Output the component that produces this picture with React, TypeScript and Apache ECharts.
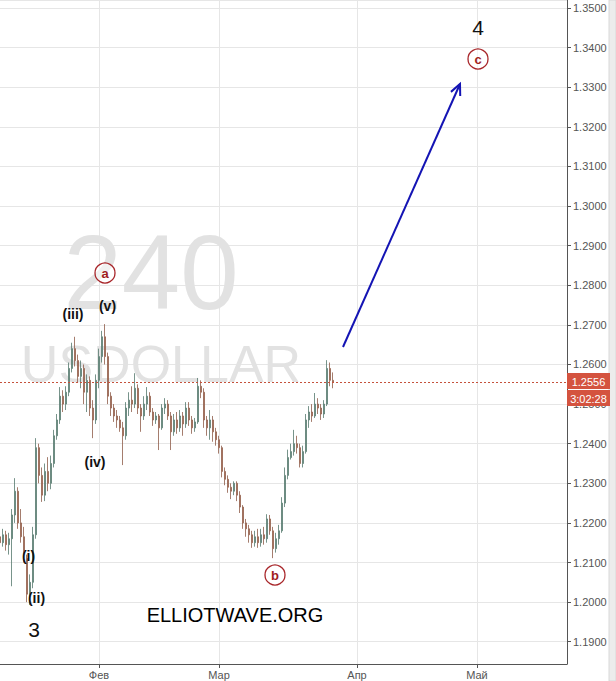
import React, { useEffect, useRef } from 'react';
import * as echarts from 'echarts';

// [open, close, low, high] per slot (about half a trading day each)
const candles: number[][] = [
  [1.2165, 1.2150, 1.2135, 1.2180],
  [1.2150, 1.2170, 1.2140, 1.2185],
  [1.2170, 1.2145, 1.2130, 1.2180],
  [1.2145, 1.2160, 1.2120, 1.2175],
  [1.2160, 1.2220, 1.2040, 1.2235],
  [1.2220, 1.2280, 1.2200, 1.2313],
  [1.2280, 1.2200, 1.2185, 1.2290],
  [1.2200, 1.2165, 1.2150, 1.2235],
  [1.2165, 1.2130, 1.2100, 1.2190],
  [1.2110, 1.2020, 1.2000, 1.2120],
  [1.2020, 1.2050, 1.1993, 1.2070],
  [1.2050, 1.2170, 1.2035, 1.2190],
  [1.2170, 1.2390, 1.2160, 1.2414],
  [1.2390, 1.2320, 1.2300, 1.2400],
  [1.2320, 1.2270, 1.2253, 1.2340],
  [1.2270, 1.2330, 1.2255, 1.2350],
  [1.2330, 1.2300, 1.2280, 1.2366],
  [1.2300, 1.2350, 1.2285, 1.2370],
  [1.2350, 1.2420, 1.2340, 1.2435],
  [1.2420, 1.2460, 1.2410, 1.2475],
  [1.2460, 1.2520, 1.2450, 1.2543],
  [1.2520, 1.2500, 1.2480, 1.2535],
  [1.2500, 1.2530, 1.2485, 1.2545],
  [1.2530, 1.2590, 1.2520, 1.2605],
  [1.2590, 1.2640, 1.2580, 1.2655],
  [1.2640, 1.2610, 1.2595, 1.2670],
  [1.2610, 1.2570, 1.2555, 1.2625],
  [1.2570, 1.2590, 1.2540, 1.2610],
  [1.2590, 1.2530, 1.2500, 1.2600],
  [1.2530, 1.2560, 1.2480, 1.2575],
  [1.2560, 1.2490, 1.2470, 1.2570],
  [1.2490, 1.2460, 1.2414, 1.2510],
  [1.2460, 1.2560, 1.2450, 1.2575],
  [1.2560, 1.2620, 1.2540, 1.2640],
  [1.2620, 1.2670, 1.2605, 1.2685],
  [1.2670, 1.2620, 1.2600, 1.2702],
  [1.2620, 1.2520, 1.2500, 1.2630],
  [1.2520, 1.2490, 1.2470, 1.2530],
  [1.2490, 1.2470, 1.2455, 1.2500],
  [1.2470, 1.2460, 1.2440, 1.2485],
  [1.2460, 1.2440, 1.2430, 1.2470],
  [1.2440, 1.2420, 1.2346, 1.2455],
  [1.2420, 1.2490, 1.2410, 1.2505],
  [1.2490, 1.2510, 1.2470, 1.2530],
  [1.2510, 1.2500, 1.2480, 1.2545],
  [1.2500, 1.2540, 1.2490, 1.2578],
  [1.2540, 1.2490, 1.2475, 1.2550],
  [1.2490, 1.2470, 1.2430, 1.2500],
  [1.2470, 1.2500, 1.2460, 1.2520],
  [1.2500, 1.2520, 1.2485, 1.2543],
  [1.2520, 1.2480, 1.2470, 1.2530],
  [1.2480, 1.2460, 1.2445, 1.2490],
  [1.2460, 1.2470, 1.2450, 1.2480],
  [1.2470, 1.2440, 1.2384, 1.2475],
  [1.2440, 1.2490, 1.2435, 1.2500],
  [1.2490, 1.2500, 1.2475, 1.2515],
  [1.2500, 1.2470, 1.2460, 1.2510],
  [1.2470, 1.2430, 1.2384, 1.2480],
  [1.2430, 1.2460, 1.2420, 1.2475],
  [1.2460, 1.2440, 1.2425, 1.2480],
  [1.2440, 1.2470, 1.2430, 1.2485],
  [1.2470, 1.2450, 1.2420, 1.2480],
  [1.2450, 1.2490, 1.2440, 1.2505],
  [1.2490, 1.2460, 1.2445, 1.2505],
  [1.2460, 1.2440, 1.2425, 1.2470],
  [1.2440, 1.2455, 1.2430, 1.2465],
  [1.2455, 1.2545, 1.2450, 1.2566],
  [1.2545, 1.2530, 1.2515, 1.2560],
  [1.2530, 1.2460, 1.2440, 1.2540],
  [1.2460, 1.2440, 1.2420, 1.2470],
  [1.2440, 1.2460, 1.2410, 1.2485],
  [1.2460, 1.2430, 1.2405, 1.2470],
  [1.2430, 1.2410, 1.2395, 1.2440],
  [1.2410, 1.2390, 1.2375, 1.2420],
  [1.2390, 1.2330, 1.2315, 1.2395],
  [1.2330, 1.2310, 1.2295, 1.2340],
  [1.2310, 1.2290, 1.2276, 1.2320],
  [1.2290, 1.2280, 1.2260, 1.2300],
  [1.2280, 1.2300, 1.2270, 1.2305],
  [1.2300, 1.2270, 1.2255, 1.2305],
  [1.2270, 1.2240, 1.2225, 1.2280],
  [1.2240, 1.2200, 1.2185, 1.2245],
  [1.2200, 1.2185, 1.2165, 1.2210],
  [1.2185, 1.2170, 1.2150, 1.2195],
  [1.2170, 1.2150, 1.2137, 1.2180],
  [1.2150, 1.2165, 1.2140, 1.2180],
  [1.2165, 1.2150, 1.2137, 1.2185],
  [1.2150, 1.2170, 1.2140, 1.2185],
  [1.2170, 1.2160, 1.2145, 1.2190],
  [1.2160, 1.2210, 1.2150, 1.2222],
  [1.2210, 1.2180, 1.2170, 1.2220],
  [1.2180, 1.2135, 1.2111, 1.2190],
  [1.2135, 1.2160, 1.2125, 1.2175],
  [1.2160, 1.2180, 1.2145, 1.2195],
  [1.2180, 1.2250, 1.2175, 1.2265],
  [1.2250, 1.2320, 1.2240, 1.2340],
  [1.2320, 1.2365, 1.2310, 1.2385],
  [1.2365, 1.2380, 1.2360, 1.2400],
  [1.2380, 1.2400, 1.2370, 1.2435],
  [1.2400, 1.2390, 1.2375, 1.2420],
  [1.2390, 1.2350, 1.2340, 1.2400],
  [1.2350, 1.2380, 1.2340, 1.2395],
  [1.2380, 1.2460, 1.2375, 1.2475],
  [1.2460, 1.2480, 1.2440, 1.2495],
  [1.2480, 1.2470, 1.2455, 1.2500],
  [1.2470, 1.2500, 1.2465, 1.2528],
  [1.2500, 1.2490, 1.2475, 1.2515],
  [1.2490, 1.2475, 1.2460, 1.2500],
  [1.2475, 1.2500, 1.2465, 1.2510],
  [1.2500, 1.2590, 1.2495, 1.2611],
  [1.2590, 1.2560, 1.2545, 1.2605],
  [1.2560, 1.2556, 1.2540, 1.2580],
];

const monthLabels = ['Фев', 'Мар', 'Апр', 'Май'];
const monthSlots = [33, 73, 119, 159];
const slotCount = 190;
const yMin = 1.184369;
const yMax = 1.352045;
const lastPrice = 1.2556;
const timerText = '3:02:28';

const FONT = '"Liberation Sans", Arial, sans-serif';

const waveLabels = [
  { text: '(i)', x: 28.5, y: 556, size: 14, bold: true },
  { text: '(ii)', x: 36.5, y: 598, size: 14, bold: true },
  { text: '3', x: 34, y: 629, size: 21, bold: false },
  { text: '(iii)', x: 73, y: 314, size: 14, bold: true },
  { text: '(v)', x: 107.5, y: 306, size: 14, bold: true },
  { text: '(iv)', x: 95, y: 462, size: 14, bold: true },
  { text: '4', x: 478, y: 27, size: 21, bold: false },
];
const circleLabels = [
  { text: 'a', x: 105, y: 273 },
  { text: 'b', x: 275, y: 575 },
  { text: 'c', x: 478, y: 59 },
];

export default function App() {
  const ref = useRef<HTMLDivElement>(null);
  useEffect(() => {
    if (!ref.current) return;
    const chart = echarts.init(ref.current, undefined, { renderer: 'svg' });
    const categories = Array.from({ length: slotCount }, (_, i) => {
      const k = monthSlots.indexOf(i);
      return k >= 0 ? monthLabels[k] : 's' + i;
    });
    const isMonth = (idx: number) => monthSlots.indexOf(idx) >= 0;

    const tail = [343, 347];
    const tip = [460, 84];
    const dx = tip[0] - tail[0], dy = tip[1] - tail[1];
    const len = Math.sqrt(dx * dx + dy * dy);
    const ux = dx / len, uy = dy / len;
    const ang = (25 * Math.PI) / 180;
    const headLen = 12;
    const rot = (a: number) => [ux * Math.cos(a) - uy * Math.sin(a), ux * Math.sin(a) + uy * Math.cos(a)];
    const r1 = rot(ang), r2 = rot(-ang);
    const head = [
      [tip[0] - headLen * r1[0], tip[1] - headLen * r1[1]],
      [tip[0], tip[1]],
      [tip[0] - headLen * r2[0], tip[1] - headLen * r2[1]],
    ];

    const graphics: any[] = [
      { type: 'rect', z: 0, silent: true, shape: { x: 609, y: 0, width: 7, height: 681 }, style: { fill: '#ececec', stroke: '#d8d8d8', lineWidth: 1 } },
      { type: 'text', z: 1, silent: true, style: { x: 151, y: 272.5, text: '240', font: `normal 105px ${FONT}`, fill: '#e2e2e2', align: 'center', verticalAlign: 'middle', textAlign: 'center', textVerticalAlign: 'middle' } },
      { type: 'text', z: 1, silent: true, style: { x: 161, y: 364, text: 'USDOLLAR', font: `normal 52px ${FONT}`, fill: '#e2e2e2', align: 'center', verticalAlign: 'middle', textAlign: 'center', textVerticalAlign: 'middle' } },
      { type: 'text', z: 100, silent: true, style: { x: 235, y: 615, text: 'ELLIOTWAVE.ORG', font: `normal 20px ${FONT}`, fill: '#000', align: 'center', verticalAlign: 'middle', textAlign: 'center', textVerticalAlign: 'middle' } },
      { type: 'line', z: 100, silent: true, shape: { x1: tail[0], y1: tail[1], x2: tip[0], y2: tip[1] }, style: { stroke: '#1414b4', lineWidth: 2 } },
      { type: 'polyline', z: 100, silent: true, shape: { points: head }, style: { stroke: '#1414b4', lineWidth: 2, fill: null } },
      { type: 'rect', z: 100, silent: true, shape: { x: 567, y: 373, width: 43, height: 16 }, style: { fill: '#d4533f' } },
      { type: 'text', z: 101, silent: true, style: { x: 588.5, y: 381.5, text: lastPrice.toFixed(4), font: `normal 11px ${FONT}`, fill: '#fff', align: 'center', verticalAlign: 'middle', textAlign: 'center', textVerticalAlign: 'middle' } },
      { type: 'rect', z: 100, silent: true, shape: { x: 567, y: 390, width: 43, height: 16 }, style: { fill: '#d4533f' } },
      { type: 'text', z: 101, silent: true, style: { x: 588.5, y: 398.5, text: timerText, font: `normal 11px ${FONT}`, fill: '#fff', align: 'center', verticalAlign: 'middle', textAlign: 'center', textVerticalAlign: 'middle' } },
    ];
    waveLabels.forEach((w) => {
      graphics.push({ type: 'text', z: 100, silent: true, style: { x: w.x, y: w.y, text: w.text, font: `${w.bold ? 'bold' : 'normal'} ${w.size}px ${FONT}`, fill: '#111', align: 'center', verticalAlign: 'middle', textAlign: 'center', textVerticalAlign: 'middle' } });
    });
    circleLabels.forEach((c) => {
      graphics.push({ type: 'circle', z: 100, silent: true, shape: { cx: c.x, cy: c.y, r: 10 }, style: { fill: 'rgba(255,255,255,0.5)', stroke: '#a8262a', lineWidth: 1.3 } });
      graphics.push({ type: 'text', z: 101, silent: true, style: { x: c.x, y: c.y + 0.5, text: c.text, font: `bold 13px ${FONT}`, fill: '#a01c20', align: 'center', verticalAlign: 'middle', textAlign: 'center', textVerticalAlign: 'middle' } });
    });

    chart.setOption({
      animation: false,
      backgroundColor: '#ffffff',
      grid: { left: 0, right: 49, top: 0, bottom: 17, containLabel: false },
      xAxis: {
        type: 'category',
        data: categories,
        boundaryGap: false,
        axisLine: { show: true, lineStyle: { color: '#555', width: 1 } },
        axisTick: { show: true, interval: (idx: number) => isMonth(idx), length: 4, lineStyle: { color: '#555' } },
        axisLabel: { show: true, interval: (idx: number) => isMonth(idx), color: '#555', fontSize: 11, fontFamily: FONT, margin: 5 },
        splitLine: { show: true, interval: (idx: number) => isMonth(idx), lineStyle: { color: '#e6e6e6', width: 1 } },
      },
      yAxis: {
        type: 'value',
        position: 'right',
        min: yMin,
        max: yMax,
        splitNumber: 16,
        minInterval: 0.01,
        maxInterval: 0.01,
        scale: true,
        axisLine: { show: true, lineStyle: { color: '#555', width: 1 } },
        axisTick: { show: true, length: 4, inside: false, lineStyle: { color: '#555' } },
        axisLabel: {
          show: true,
          color: '#555',
          fontSize: 11,
          fontFamily: FONT,
          margin: 6,
          showMinLabel: false,
          showMaxLabel: false,
          formatter: (v: number) => v.toFixed(4),
        },
        splitLine: { show: true, lineStyle: { color: '#e6e6e6', width: 1 } },
      },
      series: [
        {
          type: 'candlestick',
          data: candles,
          barWidth: 2,
          itemStyle: {
            color: '#8fb4a6',
            color0: '#d69476',
            borderColor: '#56786d',
            borderColor0: '#8e5c49',
            borderWidth: 0.8,
          },
          markLine: {
            silent: true,
            precision: 4,
            symbol: ['none', 'none'],
            label: { show: false },
            lineStyle: { color: '#c5523c', type: [2, 2], width: 1 },
            data: [{ yAxis: lastPrice }],
          },
        },
      ],
      graphic: graphics,
    });
    return () => chart.dispose();
  }, []);
  return (
    <div
      ref={ref}
      style={{ position: 'absolute', left: 0, top: 0, width: 616, height: 681, background: '#fff' }}
    />
  );
}
